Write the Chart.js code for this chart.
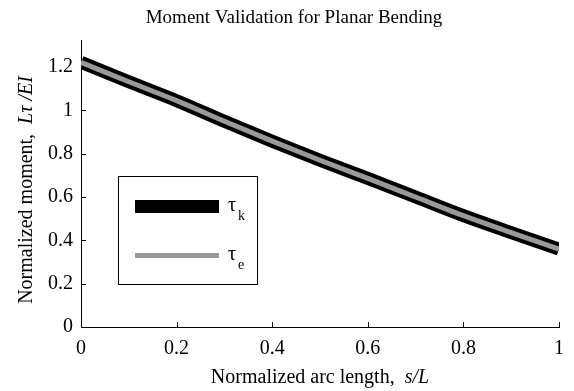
<!DOCTYPE html>
<html>
<head>
<meta charset="utf-8">
<script src="https://cdn.jsdelivr.net/npm/chart.js@4/dist/chart.umd.min.js"></script>
<style>
  html, body { margin: 0; padding: 0; background: #fff; }
</style>
</head>
<body>
<canvas id="graficoMomento" width="574" height="391"></canvas>
<script>
// ==================== DATOS ====================
const arcLength = [0, 0.1, 0.2, 0.3, 0.4, 0.5, 0.6, 0.7, 0.8, 0.9, 1];
const tauK = [1.222, 1.132, 1.045, 0.950, 0.858, 0.770, 0.686, 0.600, 0.514, 0.436, 0.360];
const tauE = [1.222, 1.132, 1.045, 0.950, 0.858, 0.770, 0.686, 0.600, 0.514, 0.436, 0.360];
const xTicks = [0, 0.2, 0.4, 0.6, 0.8, 1];
const yTicks = [0, 0.2, 0.4, 0.6, 0.8, 1, 1.2];

const SERIF = "'Liberation Serif', 'Times New Roman', serif";
const LABEL_SIZE = 20;
const TITULO = 'Moment Validation for Planar Bending';

// ==================== PLUGIN: titulo, ticks hacia dentro, titulos de ejes y leyenda ====================
const extrasPlugin = {
  id: 'extras',
  afterDraw(chart) {
    const ctx = chart.ctx;
    const xs = chart.scales.x, ys = chart.scales.y;
    const area = chart.chartArea;

    ctx.save();
    // titulo
    ctx.fillStyle = '#000';
    ctx.textAlign = 'center';
    ctx.textBaseline = 'middle';
    ctx.font = '19px ' + SERIF;
    ctx.fillText(TITULO, 294, 18);

    // ticks hacia dentro
    ctx.strokeStyle = '#000';
    ctx.lineWidth = 1;
    ctx.beginPath();
    xTicks.forEach(v => {
      const px = Math.round(xs.getPixelForValue(v)) + 0.5;
      ctx.moveTo(px, area.bottom);
      ctx.lineTo(px, area.bottom - 5);
    });
    yTicks.forEach(v => {
      const py = Math.round(ys.getPixelForValue(v)) + 0.5;
      ctx.moveTo(area.left, py);
      ctx.lineTo(area.left + 5, py);
    });
    ctx.stroke();

    // titulo eje x (texto normal + cursiva)
    const normal = LABEL_SIZE + 'px ' + SERIF;
    const italic = 'italic ' + LABEL_SIZE + 'px ' + SERIF;
    const xPart1 = 'Normalized arc length,  ';
    const xPart2 = 's/L';
    ctx.font = normal;
    const w1 = ctx.measureText(xPart1).width;
    ctx.font = italic;
    const w2 = ctx.measureText(xPart2).width;
    const x0 = (area.left + area.right) / 2 - (w1 + w2) / 2;
    ctx.textAlign = 'left';
    ctx.font = normal;
    ctx.fillText(xPart1, x0, 378);
    ctx.font = italic;
    ctx.fillText(xPart2, x0 + w1, 378);

    // titulo eje y (rotado)
    const yPart1 = 'Normalized moment,  ';
    const yPart2 = 'L\u03C4 /EI';
    ctx.font = normal;
    const h1 = ctx.measureText(yPart1).width;
    ctx.font = italic;
    const h2 = ctx.measureText(yPart2).width;
    ctx.translate(27, 190);
    ctx.rotate(-Math.PI / 2);
    const y0 = -(h1 + h2) / 2;
    ctx.font = normal;
    ctx.fillText(yPart1, y0, 0);
    ctx.font = italic;
    ctx.fillText(yPart2, y0 + h1, 0);
    ctx.restore();

    // leyenda
    ctx.save();
    ctx.fillStyle = '#fff';
    ctx.fillRect(118, 176, 140, 109);
    ctx.strokeStyle = '#000';
    ctx.lineWidth = 1;
    ctx.strokeRect(118.5, 176.5, 139, 108);
    const filas = [{ y: 206.5, sub: 'k' }, { y: 255.5, sub: 'e' }];
    chart.data.datasets.forEach((ds, i) => {
      const f = filas[i];
      ctx.strokeStyle = ds.borderColor;
      ctx.lineWidth = ds.borderWidth;
      ctx.beginPath();
      ctx.moveTo(135, f.y);
      ctx.lineTo(219, f.y);
      ctx.stroke();
      ctx.fillStyle = '#000';
      ctx.textAlign = 'left';
      ctx.textBaseline = 'middle';
      ctx.font = '20px ' + SERIF;
      ctx.fillText('\u03C4', 228, f.y - 1);
      ctx.font = '14px ' + SERIF;
      ctx.fillText(f.sub, 238, f.y + 10);
    });
    ctx.restore();
  }
};

// ==================== GRAFICO ====================
const ctx = document.getElementById('graficoMomento').getContext('2d');
const grafico = new Chart(ctx, {
  type: 'line',
  data: {
    datasets: [
      {
        label: '\u03C4k',
        data: arcLength.map((s, i) => ({ x: s, y: tauK[i] })),
        borderColor: '#000000',
        borderWidth: 13,
        pointRadius: 0,
        cubicInterpolationMode: 'monotone',
        order: 2
      },
      {
        label: '\u03C4e',
        data: arcLength.map((s, i) => ({ x: s, y: tauE[i] })),
        borderColor: '#999999',
        borderWidth: 5,
        pointRadius: 0,
        cubicInterpolationMode: 'monotone',
        order: 1
      }
    ]
  },
  options: {
    responsive: false,
    animation: false,
    layout: { padding: { left: 0, right: 8, top: 40, bottom: 0 } },
    plugins: {
      legend: { display: false },
      tooltip: { enabled: false },
      title: { display: false }
    },
    scales: {
      x: {
        type: 'linear',
        min: 0,
        max: 1,
        afterBuildTicks: axis => { axis.ticks = xTicks.map(v => ({ value: v })); },
        afterFit: axis => { axis.height = 64; },
        grid: { display: true, drawOnChartArea: false, drawTicks: false },
        border: { display: true, color: '#000', width: 1 },
        ticks: {
          color: '#000',
          padding: 10,
          maxRotation: 0,
          font: { family: SERIF, size: 20 },
          callback: v => String(v)
        }
      },
      y: {
        min: 0,
        max: 1.325,
        afterBuildTicks: axis => { axis.ticks = yTicks.map(v => ({ value: v })); },
        afterFit: axis => { axis.width = 81; },
        grid: { display: true, drawOnChartArea: false, drawTicks: false },
        border: { display: true, color: '#000', width: 1 },
        ticks: {
          color: '#000',
          padding: 8,
          font: { family: SERIF, size: 20 },
          callback: v => String(v)
        }
      }
    }
  },
  plugins: [extrasPlugin]
});
</script>
</body>
</html>
